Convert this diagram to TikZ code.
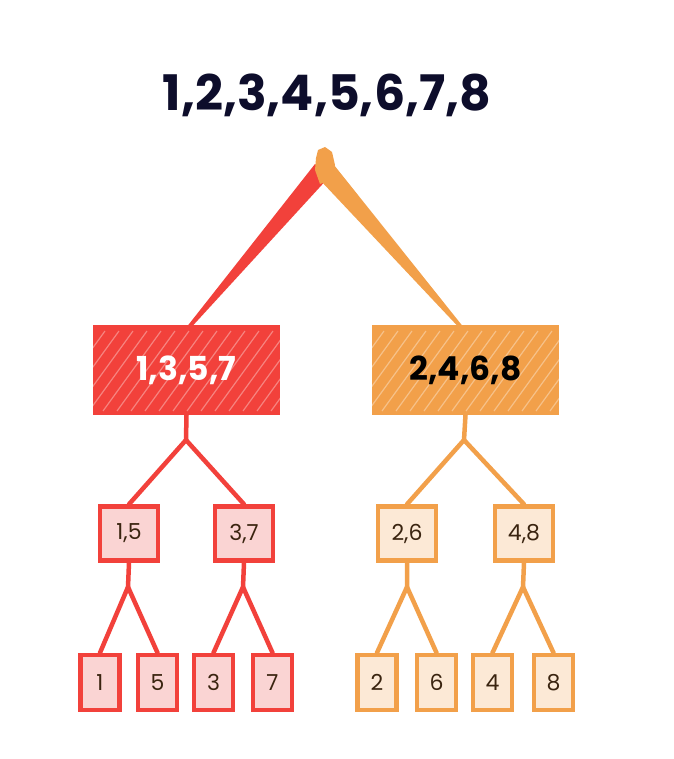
\documentclass[tikz,border=0pt]{standalone}
\usepackage{fontspec}
\setmainfont{Poppins}
\usetikzlibrary{calc}
\definecolor{rstroke}{HTML}{F2413B}
\definecolor{rfill}{HTML}{FAD4D3}
\definecolor{ostroke}{HTML}{F2A04A}
\definecolor{ofill}{HTML}{FCE9D6}
\definecolor{ink}{HTML}{0D0D2B}
\definecolor{brownink}{HTML}{3A2410}
\tikzset{
  bigbox/.style={draw=#1, fill=#1, line width=2pt, minimum width=185pt, minimum height=88pt, inner sep=0pt, font=\fontsize{33}{36}\selectfont\bfseries},
  midbox/.style={draw=#1stroke, fill=#1fill, line width=4.5pt, minimum width=58pt, minimum height=54pt, inner sep=0pt, text=brownink, font=\fontsize{22}{25}\selectfont},
  leafbox/.style={draw=#1stroke, fill=#1fill, line width=4.5pt, minimum width=39pt, minimum height=55pt, inner sep=0pt, text=brownink, font=\fontsize{22}{25}\selectfont},
  conn/.style={draw=#1stroke, line width=4.5pt, line cap=round, line join=round},
  hatch/.style={white, opacity=0.35, line width=1.2pt},
}
\begin{document}
\begin{tikzpicture}[x=1pt,y=-1pt]
\useasboundingbox (0,0) rectangle (673,759);
\fill[white] (0,0) rectangle (673,759);
% title
\node[text=ink, font=\fontsize{49}{52}\selectfont\bfseries] (title) at (327,95) {1,2,3,4,5,6,7,8};
% big boxes
\node[bigbox=rstroke] (L) at (186.5,370) {\phantom{1,3,5,7}};
\node[bigbox=ostroke] (R) at (465.5,370) {\phantom{2,4,6,8}};
% hachure
\begin{scope}
\clip (L.south west) rectangle (L.north east);
\foreach \i in {0,14,...,280} {\draw[hatch] ($(L.south west)+(\i-60,-4)$) -- ++(58,-80);}
\end{scope}
\begin{scope}
\clip (R.south west) rectangle (R.north east);
\foreach \i in {0,14,...,280} {\draw[hatch] ($(R.south west)+(\i-60,-4)$) -- ++(58,-80);}
\end{scope}
\node[text=white, font=\fontsize{33}{36}\selectfont\bfseries] (Lt) at (L.center) {1,3,5,7};
\node[text=black, font=\fontsize{33}{36}\selectfont\bfseries] (Rt) at (R.center) {2,4,6,8};
% wedges from the apex
\coordinate (apex) at (325,147);
\fill[rstroke] (315,164) -- ($(L.north)+(1,1)$) -- ($(L.north)+(6,1)$) -- (330,176) -- cycle;
\fill[ostroke] (320,180) -- ($(R.north)+(-8,1)$) -- ($(R.north)+(-3,1)$) -- (334,165) -- cycle;
\fill[ostroke] (318,150) -- (apex) -- (332,152) -- (335,165) -- (331,180) -- (320,184) -- (315,170) -- (316,158) -- cycle;
% mid boxes
\node[midbox=r] (m15) at (129,533.5) {1,5};
\node[midbox=r] (m37) at (244,533.5) {3,7};
\node[midbox=o] (m26) at (407,533.5) {2,6};
\node[midbox=o] (m48) at (524,533.5) {4,8};
% leaves
\node[leafbox=r] (l1) at (100,682.5) {1};
\node[leafbox=r] (l5) at (157.5,682.5) {5};
\node[leafbox=r] (l3) at (213.5,682.5) {3};
\node[leafbox=r] (l7) at (272.5,682.5) {7};
\node[leafbox=o] (l2) at (377,682.5) {2};
\node[leafbox=o] (l6) at (436.5,682.5) {6};
\node[leafbox=o] (l4) at (492.5,682.5) {4};
\node[leafbox=o] (l8) at (553.5,682.5) {8};
% split points
\coordinate (sL) at (186,440);
\coordinate (sR) at (464,440);
\coordinate (s15) at (128,587);
\coordinate (s37) at (243,587);
\coordinate (s26) at (407,587);
\coordinate (s48) at (523,587);
% connectors
\draw[conn=r] (L.south) -- (sL) -- (m15.north);
\draw[conn=r] (sL) -- (m37.north);
\draw[conn=o] (R.south) -- (sR) -- (m26.north);
\draw[conn=o] (sR) -- (m48.north);
\draw[conn=r] (m15.south) -- (s15) -- (l1.north);
\draw[conn=r] (s15) -- (l5.north);
\draw[conn=r] (m37.south) -- (s37) -- (l3.north);
\draw[conn=r] (s37) -- (l7.north);
\draw[conn=o] (m26.south) -- (s26) -- (l2.north);
\draw[conn=o] (s26) -- (l6.north);
\draw[conn=o] (m48.south) -- (s48) -- (l4.north);
\draw[conn=o] (s48) -- (l8.north);
\end{tikzpicture}
\end{document}
